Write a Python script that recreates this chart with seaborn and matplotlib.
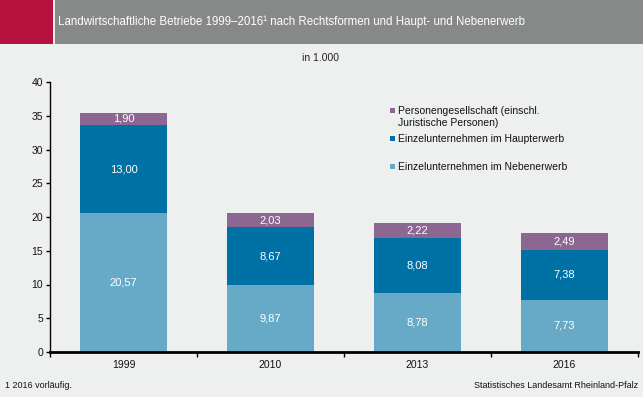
import matplotlib
matplotlib.use("Agg")
import matplotlib.pyplot as plt
from matplotlib.patches import Rectangle
import numpy as np
import pandas as pd
import seaborn as sns

years = ["1999", "2010", "2013", "2016"]
neben = [20.57, 9.87, 8.78, 7.73]
haupt = [13.00, 8.67, 8.08, 7.38]
person = [1.90, 2.03, 2.22, 2.49]
labels = ["Personengesellschaft (einschl.\nJuristische Personen)",
          "Einzelunternehmen im Haupterwerb",
          "Einzelunternehmen im Nebenerwerb"]
yticks = [0, 5, 10, 15, 20, 25, 30, 35, 40]

C_NEBEN = "#67aac8"
C_HAUPT = "#0071a4"
C_PERSON = "#8c6791"
BG = "#eef0ef"

sns.set_theme(style="white")
plt.rcParams["font.family"] = ["Liberation Sans", "DejaVu Sans"]

W, H = 643, 397
fig = plt.figure(figsize=(W / 100, H / 100), dpi=100, facecolor=BG)

def fx(x):
    return x / W

def fy(y):
    return 1 - y / H

# Header
fig.patches.append(Rectangle((fx(0), fy(44)), fx(53), 44 / H, transform=fig.transFigure,
                             facecolor="#b5123f", edgecolor="none", zorder=0))
fig.patches.append(Rectangle((fx(55), fy(44)), fx(W - 55), 44 / H, transform=fig.transFigure,
                             facecolor="#878888", edgecolor="none", zorder=0))
fig.text(fx(58), fy(22), "Landwirtschaftliche Betriebe 1999–2016\u00b9 nach Rechtsformen und Haupt- und Nebenerwerb",
         color="white", fontsize=8.3, va="center", ha="left")
fig.text(fx(320), fy(58), "in 1.000", color="#222222", fontsize=7.5, ha="center", va="center")

ax = fig.add_axes([fx(50), fy(352), (638 - 50) / W, (352 - 82) / H])
ax.set_facecolor(BG)

df = pd.DataFrame({"year": years, "neben": neben, "haupt": haupt, "person": person})
df["c2"] = df["neben"] + df["haupt"]
df["c3"] = df["c2"] + df["person"]

bw = 0.59
sns.barplot(data=df, x="year", y="c3", color=C_PERSON, saturation=1, width=bw, ax=ax, linewidth=0)
sns.barplot(data=df, x="year", y="c2", color=C_HAUPT, saturation=1, width=bw, ax=ax, linewidth=0)
sns.barplot(data=df, x="year", y="neben", color=C_NEBEN, saturation=1, width=bw, ax=ax, linewidth=0)

def fmt(v):
    return f"{v:.2f}".replace(".", ",")

for i, r in df.iterrows():
    ax.text(i, r["neben"] / 2, fmt(r["neben"]), ha="center", va="center", color="white", fontsize=8)
    ax.text(i, r["neben"] + r["haupt"] / 2, fmt(r["haupt"]), ha="center", va="center", color="white", fontsize=8)
    ax.text(i, r["c2"] + r["person"] / 2, fmt(r["person"]), ha="center", va="center", color="white", fontsize=8)

ax.set_xlim(-0.5, 3.5)
ax.set_ylim(0, 40)
ax.set_yticks(yticks)
ax.set_yticklabels([str(t) for t in yticks])
ax.set_xlabel("")
ax.set_ylabel("")
ax.set_xticks(range(len(years)))
ax.set_xticklabels(years)
ax.set_xticks([-0.5, 0.5, 1.5, 2.5, 3.5], minor=True)
ax.tick_params(axis="x", which="major", length=0, pad=6, labelsize=7.5, labelcolor="#111111")
ax.tick_params(axis="x", which="minor", length=3.5, width=1, direction="out", color="black", bottom=True)
ax.tick_params(axis="y", which="major", length=3, width=1, direction="out", color="black", pad=2,
               labelsize=7.5, labelcolor="#111111", left=True)
for s in ["top", "right"]:
    ax.spines[s].set_visible(False)
ax.spines["left"].set_color("black")
ax.spines["left"].set_linewidth(1)
ax.spines["bottom"].set_color("black")
ax.spines["bottom"].set_linewidth(2)
ax.grid(False)

# Legend
leg_items = [(labels[0], C_PERSON, 110), (labels[1], C_HAUPT, 138), (labels[2], C_NEBEN, 166)]
for lab, col, y in leg_items:
    fig.patches.append(Rectangle((fx(390), fy(y + 2.5)), 5 / W, 5 / H, transform=fig.transFigure,
                                 facecolor=col, edgecolor="none"))
    fig.text(fx(398), fy(y - 4), lab, fontsize=7.5, color="#111111", ha="left", va="top",
             linespacing=1.25)

fig.text(fx(5), fy(385), "1 2016 vorläufig.", fontsize=6.5, color="#111111", ha="left", va="center")
fig.text(fx(638), fy(385), "Statistisches Landesamt Rheinland-Pfalz", fontsize=6.5, color="#111111",
         ha="right", va="center")

fig.savefig("out.png", dpi=100, facecolor=BG)
